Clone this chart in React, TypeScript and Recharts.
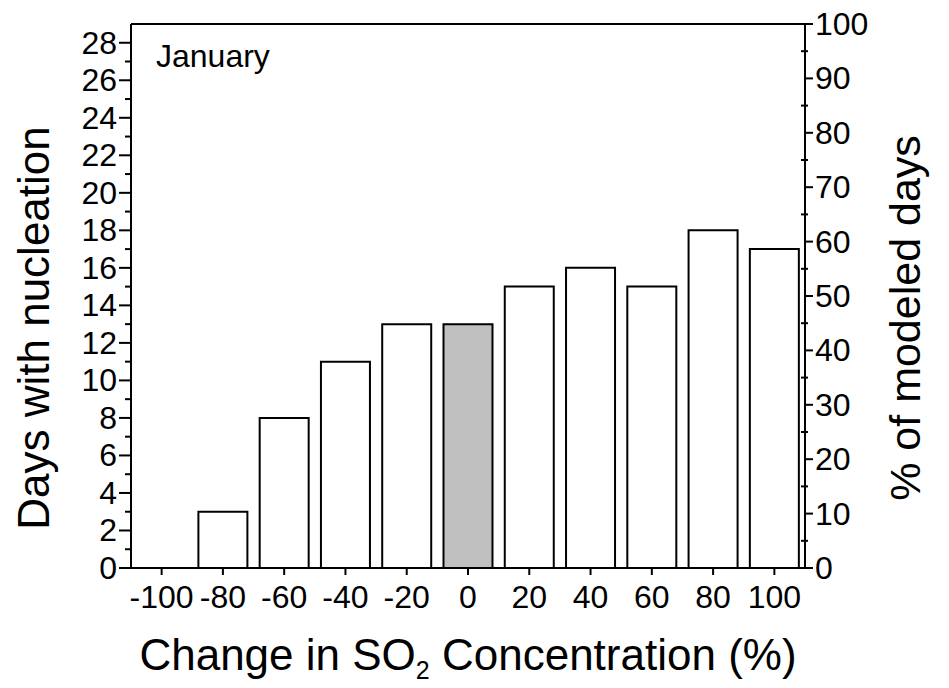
import { ComposedChart, Bar, Line, XAxis, YAxis, Cell, ReferenceLine } from "recharts";

const categories = ["-100", "-80", "-60", "-40", "-20", "0", "20", "40", "60", "80", "100"];
const daysWithNucleation = [0, 3, 8, 11, 13, 13, 15, 16, 15, 18, 17];
const modeledDays = 29;
const baseCategory = "0";
const leftTicks = [0, 1, 2, 3, 4, 5, 6, 7, 8, 9, 10, 11, 12, 13, 14, 15, 16, 17, 18, 19, 20, 21, 22, 23, 24, 25, 26, 27, 28];
const rightTicks = [0, 5, 10, 15, 20, 25, 30, 35, 40, 45, 50, 55, 60, 65, 70, 75, 80, 85, 90, 95, 100];

const data = categories.map((c, i) => ({
  change: c,
  days: daysWithNucleation[i],
  pct: (daysWithNucleation[i] / modeledDays) * 100,
}));

const FONT = "'Liberation Sans', Arial, Helvetica, sans-serif";
const TICK_FONT = 32;

const LeftTick = (props: any) => {
  const { x, y, payload } = props;
  const major = payload.value % 2 === 0;
  return (
    <g>
      <line x1={x} x2={x - (major ? 12 : 6)} y1={y} y2={y} stroke="#000" strokeWidth={2} />
      {major && (
        <text x={x - 14} y={y} dy={11} textAnchor="end" fontSize={TICK_FONT} fontFamily={FONT} fill="#000">
          {payload.value}
        </text>
      )}
    </g>
  );
};

const RightTick = (props: any) => {
  const { x, y, payload } = props;
  const major = payload.value % 10 === 0;
  return (
    <g>
      {major ? (
        <line x1={x} x2={x + 8} y1={y} y2={y} stroke="#000" strokeWidth={2} />
      ) : (
        <line x1={x - 4} x2={x + 3} y1={y} y2={y} stroke="#000" strokeWidth={2} />
      )}
      {major && (
        <text x={x + 10} y={y} dy={11} textAnchor="start" fontSize={TICK_FONT} fontFamily={FONT} fill="#000">
          {payload.value}
        </text>
      )}
    </g>
  );
};

const BottomTick = (props: any) => {
  const { x, y, payload } = props;
  return (
    <g>
      <line x1={x} x2={x} y1={y} y2={y + 7} stroke="#000" strokeWidth={2} />
      <text x={x} y={y + 40} textAnchor="middle" fontSize={TICK_FONT} fontFamily={FONT} fill="#000">
        {payload.value}
      </text>
    </g>
  );
};

export default function App() {
  return (
    <div style={{ position: "absolute", left: 0, top: 0, background: "#fff" }}>
      <ComposedChart
        width={949}
        height={688}
        data={data}
        margin={{ top: 24, right: 0, bottom: 0, left: 0 }}
        barCategoryGap="10%"
      >
        <XAxis
          dataKey="change"
          height={120}
          interval={0}
          tickLine={false}
          tickSize={0}
          tickMargin={0}
          axisLine={{ stroke: "#000", strokeWidth: 2 }}
          tick={<BottomTick />}
          label={{
            content: () => (
              <text x={468} y={670} textAnchor="middle" fontSize={44} fontFamily={FONT} fill="#000">
                <tspan>Change in SO</tspan>
                <tspan fontSize={25} dy={9}>2</tspan>
                <tspan dy={-9}> Concentration (%)</tspan>
              </text>
            ),
          }}
        />
        <YAxis
          yAxisId="left"
          width={131}
          domain={[0, 29]}
          ticks={leftTicks}
          interval={0}
          tickLine={false}
          tickSize={0}
          tickMargin={0}
          axisLine={{ stroke: "#000", strokeWidth: 2 }}
          tick={<LeftTick />}
          label={{
            content: () => (
              <text
                x={49}
                y={328}
                transform="rotate(-90 49 328)"
                textAnchor="middle"
                fontSize={44}
                fontFamily={FONT}
                fill="#000"
              >
                Days with nucleation
              </text>
            ),
          }}
        />
        <YAxis
          yAxisId="right"
          orientation="right"
          width={144}
          domain={[0, 100]}
          ticks={rightTicks}
          interval={0}
          tickLine={false}
          tickSize={0}
          tickMargin={0}
          axisLine={{ stroke: "#000", strokeWidth: 2 }}
          tick={<RightTick />}
          label={{
            content: () => (
              <text
                x={920}
                y={318}
                transform="rotate(-90 920 318)"
                textAnchor="middle"
                fontSize={43}
                fontFamily={FONT}
                fill="#000"
              >
                % of modeled days
              </text>
            ),
          }}
        />
        <ReferenceLine
          yAxisId="left"
          y={29}
          stroke="#000"
          strokeWidth={2}
          label={{
            content: () => (
              <text x={156} y={67} fontSize={32} fontFamily={FONT} fill="#000">
                January
              </text>
            ),
          }}
        />
        <Bar
          yAxisId="left"
          dataKey="days"
          stroke="#000"
          strokeWidth={2}
          fill="#fff"
          isAnimationActive={false}
        >
          {data.map((d) => (
            <Cell key={d.change} fill={d.change === baseCategory ? "#c0c0c0" : "#fff"} />
          ))}
        </Bar>
        <Line
          yAxisId="right"
          dataKey="pct"
          stroke="none"
          strokeOpacity={0}
          dot={false}
          activeDot={false}
          legendType="none"
          isAnimationActive={false}
        />
      </ComposedChart>
    </div>
  );
}
